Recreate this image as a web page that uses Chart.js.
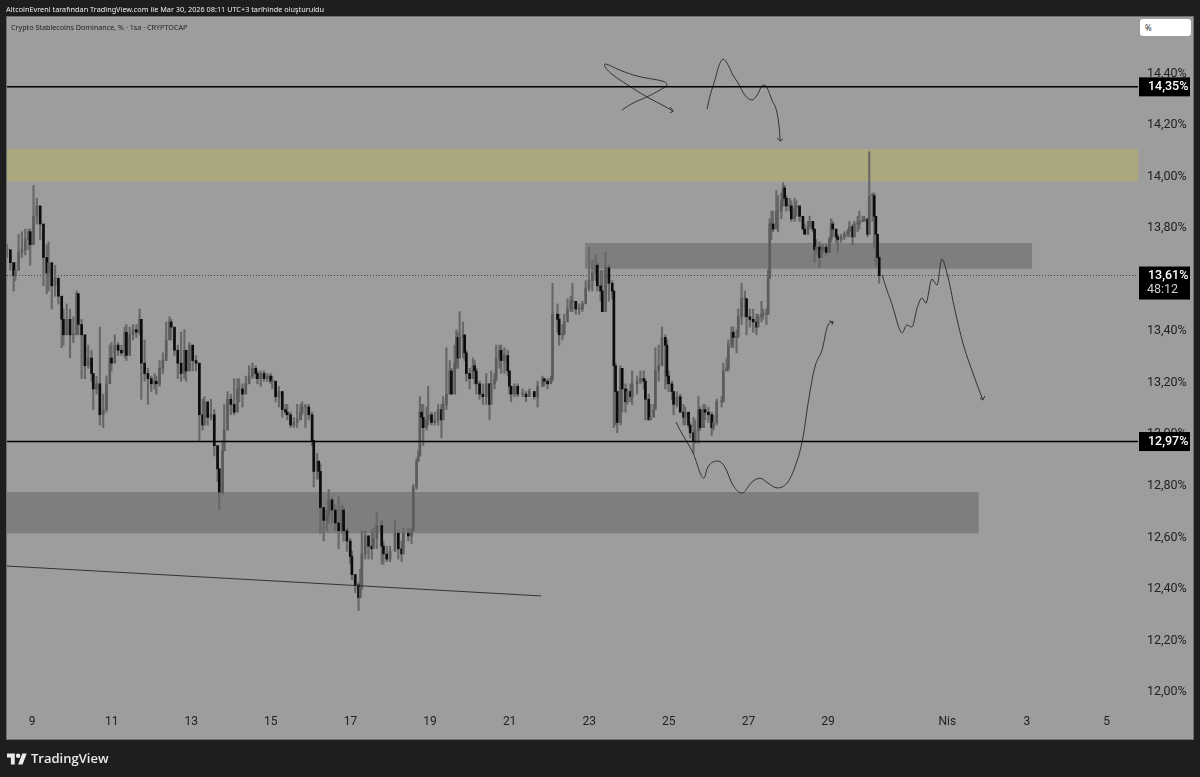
<!DOCTYPE html>
<html lang="tr">
<head>
<meta charset="utf-8">
<title>Crypto Stablecoins Dominance</title>
<script src="https://cdn.jsdelivr.net/npm/chart.js@4/dist/chart.umd.js"></script>
<style>
    html, body { margin: 0; padding: 0; background: #1e1e1e; width: 1200px; height: 777px; overflow: hidden; }
    body { position: relative; font-family: "Noto Sans", sans-serif; }
    #frame { position: absolute; left: 6px; top: 16px; width: 1186px; height: 722px; background: #9d9d9d; border: 1px solid #6e6e6e; }
    #chart { position: absolute; left: 0; top: 0; }
    #credit { position: absolute; left: 6px; top: 3px; font-size: 7.3px; line-height: 12px; color: #eee; white-space: nowrap; }
    #title { position: absolute; left: 11px; top: 21px; font-size: 7.2px; line-height: 12px; color: #222; white-space: nowrap; }
    #unit { position: absolute; left: 1140px; top: 19px; width: 46px; height: 17px; padding-left: 5px; background: #fff; border-radius: 3px; font-size: 8px; line-height: 17px; color: #333; }
    #brand { position: absolute; left: 7px; top: 749px; color: #eaeaea; font-family: "Open Sans", sans-serif; font-size: 13px; font-weight: 600; line-height: 18px; display: flex; align-items: center; gap: 4px; }
</style>
</head>
<body>
<div id="frame"></div>
<canvas id="chart" width="1200" height="777"></canvas>
<div id="credit">AltcoinEvreni tarafından TradingView.com ile Mar 30, 2026 08:11 UTC+3 tarihinde oluşturuldu</div>
<div id="title">Crypto Stablecoins Dominance, % · 1sa · CRYPTOCAP</div>
<div id="unit">%</div>
<div id="brand">
    <svg width="20" height="15" viewBox="0 0 36 26" fill="#eaeaea"><path d="M14 24H7V11H0V4h14v20zM28 24h-8l7.5-20h8L28 24z"/><circle cx="20" cy="8" r="4"/></svg>
    <span>TradingView</span>
</div>
<script>
// saat sayisi, ilk mumdan itibaren (1sa grafik, elle okundu)
const candleHours = [
    0,2,4,5,7,9,11,13,14,16,
    18,20,22,24,25,27,29,31,33,34,
    36,38,40,42,43,45,47,49,51,52,
    54,56,58,60,62,63,65,67,69,71,
    72,74,76,78,80,81,83,85,87,89,
    90,92,94,96,98,99,101,103,105,107,
    108,110,112,114,116,118,119,121,123,125,
    127,128,130,131,133,135,137,139,140,142,
    144,146,148,150,151,153,155,157,159,160,
    162,164,166,168,169,171,173,175,177,178,
    180,182,184,185,
    187,188,189,191,193,194,196,198,200,202,
    203,205,207,208,210,212,213,214,216,218,
    220,221,223,226,227,229,231,234,236,238,
    239,242,244,245,247,248,249,250,251,253,
    254,256,258,260,262,263,265,267,268,270,
    271,272,273,275,276,277,279,281,282,283,
    285,287,289,291,292,294,295,297,298,300,
    302,303,304,306,308,311,313,315,318,320,
    323,324,326,328,329,
    332,333,335,336,338,340,341,343,345,347,
    349,351,353,355,356,358,359,361,363,365,
    366,367,368,370,371,373,374,376,377,380,
    382,384,385,387,388,390,391,393,395,397,
    398,399,401,402,404,406,408,409,411,412,
    414,415,417,418,420,421,423,425,426,428,
    431,432,434,435,437,438,440,441,443,445,
    446,448,450,452,453,455,456,458,459,460,
    461,462,464,465,467,468,469,470,472,473,
    475,476,478,480,481,483,484,486,487,488,
    490,491,492,494,496,497,498,500,501,503,
    505,507,508,510,511,513,514,516,517,519,
    520,522,523,524,525,526
];
const closes = [
    13.71,13.66,13.61,13.63,13.70,13.71,13.75,13.78,13.73,13.84,
    13.88,13.81,13.68,13.62,13.66,13.57,13.60,13.53,13.44,13.38,
    13.44,13.38,13.38,13.54,13.42,13.38,13.26,13.29,13.23,13.17,
    13.19,13.07,13.09,13.19,13.29,13.27,13.34,13.32,13.31,13.39,
    13.30,13.38,13.40,13.39,13.44,13.27,13.23,13.21,13.19,13.20,
    13.19,13.25,13.28,13.36,13.43,13.41,13.32,13.27,13.23,13.32,
    13.24,13.34,13.28,13.27,13.07,13.03,13.12,13.06,13.07,12.95,
    12.86,12.77,12.93,13.01,13.13,13.11,13.08,13.17,13.17,13.15,
    13.19,13.22,13.25,13.23,13.21,13.23,13.21,13.22,13.20,13.20,
    13.14,13.16,13.09,13.08,13.07,13.03,13.04,13.05,13.08,13.10,
    13.10,13.07,12.97,12.85,
    12.89,12.85,12.71,12.66,12.68,12.74,12.70,12.65,12.62,12.70,
    12.62,12.58,12.52,12.45,12.41,12.36,12.40,12.53,12.60,12.56,
    12.55,12.59,12.64,12.56,12.53,12.51,12.54,12.61,12.55,12.53,
    12.61,12.60,12.62,12.79,12.89,12.91,13.08,13.06,13.02,13.05,
    13.07,13.04,13.05,13.09,13.05,13.11,13.15,13.24,13.15,13.27,
    13.37,13.29,13.37,13.38,13.31,13.23,13.21,13.26,13.24,13.19,
    13.15,13.14,13.19,13.11,13.19,13.21,13.29,13.32,13.28,13.30,
    13.24,13.18,13.15,13.18,13.15,13.15,13.14,13.16,13.14,13.18,
    13.21,13.20,13.19,13.21,13.46,
    13.44,13.38,13.38,13.43,13.48,13.51,13.51,13.48,13.48,13.50,
    13.56,13.59,13.62,13.65,13.57,13.55,13.47,13.64,13.58,13.55,
    13.26,13.16,13.04,13.25,13.17,13.12,13.16,13.14,13.19,13.20,
    13.21,13.20,13.13,13.05,13.06,13.09,13.24,13.26,13.37,13.34,
    13.22,13.19,13.16,13.11,13.14,13.08,13.06,13.08,13.03,13.00,
    12.97,13.01,13.09,13.02,13.09,13.08,13.07,13.02,13.04,13.12,
    13.12,13.24,13.25,13.34,13.39,13.37,13.37,13.45,13.52,13.52,
    13.45,13.44,13.43,13.41,13.45,13.46,13.46,13.46,13.60,13.81,
    13.81,13.79,13.86,13.86,13.90,13.95,13.91,13.88,13.88,13.83,
    13.87,13.88,13.84,13.79,13.77,13.80,13.82,13.79,13.71,13.72,
    13.68,13.71,13.72,13.70,13.75,13.81,13.79,13.76,13.75,13.76,
    13.77,13.78,13.80,13.76,13.81,13.81,13.82,13.82,13.83,13.77,
    13.92,13.92,13.84,13.77,13.68,13.61
];
const highs = [
    13.73,13.71,13.66,13.66,13.77,13.78,13.79,13.79,13.79,13.96,
    13.91,13.88,13.78,13.73,13.74,13.64,13.65,13.59,13.51,13.48,
    13.50,13.48,13.45,13.55,13.53,13.44,13.38,13.34,13.32,13.23,
    13.22,13.41,13.15,13.22,13.34,13.35,13.38,13.35,13.34,13.41,
    13.42,13.41,13.42,13.42,13.48,13.40,13.36,13.25,13.22,13.23,
    13.22,13.28,13.31,13.43,13.45,13.44,13.40,13.34,13.39,13.40,
    13.32,13.35,13.34,13.30,13.27,13.13,13.14,13.11,13.13,13.09,
    12.95,12.86,12.97,13.11,13.16,13.15,13.21,13.21,13.21,13.19,
    13.22,13.26,13.27,13.26,13.24,13.24,13.24,13.23,13.23,13.22,
    13.20,13.18,13.16,13.11,13.11,13.08,13.06,13.11,13.11,13.12,
    13.11,13.11,13.08,12.97,
    12.92,12.89,12.88,12.71,12.70,12.78,12.75,12.72,12.75,12.72,
    12.71,12.63,12.59,12.54,12.45,12.42,12.47,12.62,12.62,12.60,
    12.62,12.63,12.69,12.66,12.58,12.56,12.56,12.66,12.62,12.58,
    12.63,12.63,12.63,12.80,12.90,12.93,13.14,13.11,13.11,13.10,
    13.18,13.08,13.08,13.11,13.11,13.14,13.33,13.28,13.25,13.34,
    13.40,13.39,13.47,13.43,13.38,13.32,13.25,13.29,13.28,13.25,
    13.20,13.19,13.23,13.19,13.24,13.23,13.34,13.34,13.34,13.33,
    13.32,13.24,13.18,13.19,13.19,13.17,13.16,13.17,13.16,13.20,
    13.22,13.21,13.21,13.22,13.58,
    13.50,13.46,13.42,13.46,13.52,13.53,13.58,13.51,13.50,13.51,
    13.59,13.72,13.67,13.69,13.66,13.63,13.63,13.70,13.65,13.59,
    13.55,13.27,13.16,13.26,13.24,13.19,13.17,13.19,13.24,13.22,
    13.24,13.24,13.21,13.15,13.11,13.11,13.33,13.34,13.41,13.38,
    13.36,13.24,13.20,13.16,13.16,13.15,13.11,13.10,13.08,13.04,
    13.06,13.05,13.14,13.10,13.11,13.11,13.10,13.08,13.07,13.13,
    13.14,13.27,13.29,13.36,13.41,13.41,13.40,13.48,13.58,13.55,
    13.52,13.48,13.48,13.46,13.46,13.51,13.48,13.48,13.63,13.83,
    13.86,13.86,13.94,13.92,13.93,13.97,13.96,13.92,13.91,13.90,
    13.91,13.90,13.88,13.83,13.81,13.82,13.84,13.82,13.79,13.75,
    13.74,13.73,13.73,13.73,13.76,13.83,13.82,13.79,13.77,13.77,
    13.78,13.79,13.82,13.81,13.82,13.84,13.86,13.84,13.84,13.82,
    14.09,13.93,13.93,13.84,13.76,13.69
];
const lows = [
    13.68,13.63,13.55,13.59,13.66,13.68,13.69,13.71,13.65,13.73,
    13.81,13.75,13.57,13.54,13.55,13.48,13.53,13.50,13.33,13.34,
    13.38,13.29,13.35,13.39,13.38,13.21,13.21,13.25,13.20,13.09,
    13.15,13.03,13.02,13.08,13.23,13.24,13.31,13.30,13.30,13.29,
    13.28,13.33,13.36,13.37,13.38,13.13,13.20,13.11,13.16,13.17,
    13.15,13.18,13.23,13.30,13.38,13.36,13.30,13.21,13.20,13.21,
    13.20,13.24,13.24,13.24,12.97,13.01,13.05,13.03,13.05,12.91,
    12.81,12.70,12.76,12.96,13.05,13.07,13.07,13.13,13.12,13.10,
    13.15,13.19,13.21,13.21,13.19,13.18,13.20,13.20,13.19,13.17,
    13.12,13.10,13.06,13.07,13.05,13.02,13.02,13.02,13.05,13.07,
    13.02,13.05,12.95,12.79,
    12.82,12.82,12.61,12.58,12.62,12.65,12.65,12.62,12.55,12.61,
    12.58,12.54,12.49,12.43,12.38,12.31,12.36,12.39,12.51,12.51,
    12.51,12.56,12.55,12.49,12.49,12.50,12.50,12.56,12.51,12.50,
    12.56,12.58,12.57,12.62,12.78,12.89,12.91,13.02,12.95,13.01,
    13.03,13.03,13.03,13.03,12.98,13.05,13.09,13.15,13.15,13.23,
    13.25,13.25,13.29,13.29,13.28,13.20,13.17,13.21,13.19,13.15,
    13.13,13.11,13.11,13.05,13.15,13.17,13.20,13.25,13.23,13.23,
    13.22,13.15,13.12,13.14,13.14,13.14,13.12,13.14,13.13,13.10,
    13.19,13.18,13.17,13.19,13.20,
    13.39,13.34,13.36,13.39,13.45,13.47,13.47,13.46,13.46,13.47,
    13.53,13.55,13.55,13.59,13.55,13.51,13.47,13.55,13.51,13.52,
    13.02,13.03,13.00,13.03,13.08,13.08,13.11,13.12,13.11,13.15,
    13.19,13.17,13.05,13.05,13.05,13.07,13.10,13.20,13.29,13.17,
    13.19,13.16,13.13,13.07,13.10,13.08,13.03,13.03,13.02,12.98,
    12.92,12.96,12.96,13.01,13.02,13.05,13.04,12.99,13.01,13.03,
    13.10,13.12,13.24,13.24,13.33,13.33,13.31,13.38,13.42,13.45,
    13.38,13.41,13.39,13.38,13.42,13.43,13.44,13.42,13.46,13.60,
    13.75,13.78,13.81,13.78,13.83,13.88,13.88,13.86,13.86,13.82,
    13.82,13.84,13.82,13.79,13.77,13.77,13.79,13.78,13.66,13.69,
    13.64,13.68,13.70,13.69,13.70,13.74,13.76,13.74,13.70,13.74,
    13.75,13.76,13.76,13.73,13.76,13.78,13.79,13.82,13.82,13.76,
    13.77,13.82,13.72,13.65,13.68,13.58
];

// eksenler
const priceTicks = [12, 12.2, 12.4, 12.6, 12.8, 13, 13.2, 13.4, 13.6, 13.8, 14, 14.2, 14.4];
const dayTicks = [9, 11, 13, 15, 17, 19, 21, 23, 25, 27, 29, 32, 34, 36];
const dayLabels = ['9', '11', '13', '15', '17', '19', '21', '23', '25', '27', '29', 'Nis', '3', '5'];

// kutular (gun ve fiyat)
const zoneStarts = [8.37, 22.89, 8.37];
const zoneEnds = [36.79, 34.13, 32.79];
const zoneTops = [14.10, 13.736, 12.77];
const zoneBottoms = [13.975, 13.636, 12.61];

// yatay seviyeler
const levels = [14.342, 12.966];
const levelLabels = ['14,35%', '12,97%'];
const lastPrice = 13.61;
const lastPriceLabel = '13,61%';
const countdown = '48:12';

// alt trend cizgisi
const trendDays = [8.37, 21.79];
const trendValues = [12.483, 12.367];

// elle cizilen oklar
const loopDays = [23.82, 24.10, 24.45, 24.78, 24.95, 24.90, 24.60, 24.20, 23.77, 23.40, 23.40, 23.60, 23.97, 24.45, 24.83, 25.11];
const loopValues = [14.252, 14.279, 14.303, 14.330, 14.349, 14.361, 14.372, 14.384, 14.407, 14.431, 14.419, 14.388, 14.349, 14.303, 14.272, 14.248];
const loopHeadDays = [25.03, 25.11, 25.03];
const loopHeadValues = [14.264, 14.248, 14.241];

const peakDays = [25.96, 26.04, 26.16, 26.24, 26.36, 26.49, 26.61, 26.74, 26.91, 27.09, 27.22, 27.37, 27.47, 27.59, 27.72, 27.78, 27.80];
const peakValues = [14.256, 14.310, 14.369, 14.415, 14.450, 14.427, 14.388, 14.357, 14.310, 14.291, 14.310, 14.349, 14.338, 14.291, 14.241, 14.175, 14.132];
const peakHeadDays = [27.72, 27.80, 27.87];
const peakHeadValues = [14.144, 14.132, 14.140];

const dipDays = [25.18, 25.28, 25.61, 25.88, 25.98, 26.24, 26.41, 26.61, 26.84, 27.09, 27.29, 27.49, 27.72, 27.97, 28.17, 28.37, 28.50, 28.67, 28.85, 29.00, 29.13];
const dipValues = [13.042, 13.011, 12.921, 12.824, 12.867, 12.890, 12.867, 12.797, 12.766, 12.809, 12.824, 12.805, 12.786, 12.805, 12.867, 12.980, 13.115, 13.255, 13.321, 13.418, 13.430];
const dipHeadDays = [29.03, 29.13, 29.10];
const dipHeadValues = [13.434, 13.430, 13.418];

const pathDays = [30.36, 30.48, 30.63, 30.76, 30.86, 30.98, 31.11, 31.24, 31.36, 31.46, 31.61, 31.74, 31.86, 31.99, 32.19, 32.39, 32.64, 32.89];
const pathValues = [13.612, 13.554, 13.488, 13.418, 13.387, 13.418, 13.410, 13.484, 13.523, 13.503, 13.596, 13.573, 13.674, 13.620, 13.476, 13.348, 13.232, 13.127];
const pathHeadDays = [32.82, 32.89, 32.94];
const pathHeadValues = [13.135, 13.127, 13.143];

const firstCandleDay = 8.37;
const upColor = '#5c5c5c';
const downColor = '#0c0c0c';
const wickColor = '#686868';
const inkColor = '#333333';

const candleDays = candleHours.map(h => firstCandleDay + h / 24);
const opens = closes.map((c, i) => i === 0 ? c : closes[i - 1]);
const candleColors = closes.map((c, i) => c >= opens[i] ? upColor : downColor);

const points = (days, values) => days.map((d, i) => ({ x: d, y: values[i] }));

const zoneColors = ['#aca87e', '#7e7e7e', '#7e7e7e'];
const zoneSets = zoneStarts.map((start, i) => ({
    type: 'line',
    data: [{ x: start, y: zoneTops[i] }, { x: zoneEnds[i], y: zoneTops[i] }],
    borderWidth: 0,
    pointRadius: 0,
    backgroundColor: zoneColors[i],
    fill: { value: zoneBottoms[i] },
    order: 9
}));

const lineSet = (days, values, extra) => Object.assign({
    type: 'line',
    data: points(days, values),
    borderColor: inkColor,
    borderWidth: 1,
    pointRadius: 0,
    fill: false,
    order: 1
}, extra);

const levelSets = levels.map(v => lineSet([8.37, 36.79], [v, v], { borderColor: '#000', borderWidth: 1.5 }));
const lastPriceSet = lineSet([8.37, 36.79], [lastPrice, lastPrice], { borderColor: '#444', borderDash: [1, 2], order: 8 });

// fiyat etiketleri ve kalan sure, eksenin ustune
const priceTags = {
    id: 'priceTags',
    afterDraw(chart) {
        const ctx = chart.ctx;
        const y = chart.scales.y;
        const left = 1139, width = 51;
        ctx.save();
        ctx.textBaseline = 'middle';
        ctx.textAlign = 'left';
        levels.forEach((v, i) => {
            const py = y.getPixelForValue(v);
            ctx.fillStyle = '#000';
            ctx.fillRect(left, py - 9.5, width, 19);
            ctx.fillStyle = '#fff';
            ctx.font = '500 12.5px Roboto';
            ctx.fillText(levelLabels[i], left + 9, py + 0.5);
        });
        const py = y.getPixelForValue(lastPrice);
        ctx.fillStyle = '#000';
        ctx.fillRect(left, py - 9, width, 33);
        ctx.fillStyle = '#fff';
        ctx.font = '500 12.5px Roboto';
        ctx.fillText(lastPriceLabel, left + 9, py + 0.5);
        ctx.fillStyle = '#cfcfcf';
        ctx.font = '12.5px Roboto';
        ctx.fillText(countdown, left + 8, py + 14.5);
        ctx.restore();
    }
};

Chart.defaults.font.family = 'Roboto, sans-serif';

new Chart(document.getElementById('chart').getContext('2d'), {
    type: 'bar',
    data: {
        datasets: [
            ...zoneSets,
            lastPriceSet,
            {
                data: candleDays.map((d, i) => ({ x: d, y: [lows[i], highs[i]] })),
                backgroundColor: wickColor,
                barThickness: 1.5,
                grouped: false,
                order: 5
            },
            {
                data: candleDays.map((d, i) => ({ x: d, y: [opens[i], closes[i]] })),
                backgroundColor: candleColors,
                barThickness: 2,
                minBarLength: 1,
                grouped: false,
                order: 4
            },
            ...levelSets,
            lineSet(trendDays, trendValues),
            lineSet(loopDays, loopValues, { tension: 0.4 }),
            lineSet(loopHeadDays, loopHeadValues),
            lineSet(peakDays, peakValues, { cubicInterpolationMode: 'monotone' }),
            lineSet(peakHeadDays, peakHeadValues),
            lineSet(dipDays, dipValues, { cubicInterpolationMode: 'monotone' }),
            lineSet(dipHeadDays, dipHeadValues),
            lineSet(pathDays, pathValues, { cubicInterpolationMode: 'monotone' }),
            lineSet(pathHeadDays, pathHeadValues)
        ]
    },
    options: {
        responsive: false,
        animation: false,
        layout: { padding: { left: 7, top: 17, right: 7, bottom: 38 } },
        plugins: { legend: { display: false }, tooltip: { enabled: false } },
        scales: {
            x: {
                type: 'linear',
                min: 8.37,
                max: 36.79,
                offset: false,
                grid: { display: false, drawTicks: false },
                border: { display: false },
                afterBuildTicks: scale => { scale.ticks = dayTicks.map(v => ({ value: v })); },
                afterFit: scale => { scale.height = 33; },
                ticks: {
                    color: '#222',
                    font: { size: 12 },
                    padding: 9,
                    maxRotation: 0,
                    autoSkip: false,
                    callback: value => dayLabels[dayTicks.indexOf(value)]
                }
            },
            y: {
                position: 'right',
                min: 11.94,
                max: 14.613,
                grid: { display: false, drawTicks: false },
                border: { display: false },
                afterBuildTicks: scale => { scale.ticks = priceTicks.map(v => ({ value: v })); },
                afterFit: scale => { scale.width = 55; },
                ticks: {
                    color: '#222',
                    font: { size: 12.5, lineHeight: '3px' },
                    padding: 9,
                    autoSkip: false,
                    // bos ilk satir yaziyi biraz asagi iter
                    callback: value => ['', value.toFixed(2).replace('.', ',') + '%']
                }
            }
        }
    },
    plugins: [priceTags]
});
</script>
</body>
</html>
